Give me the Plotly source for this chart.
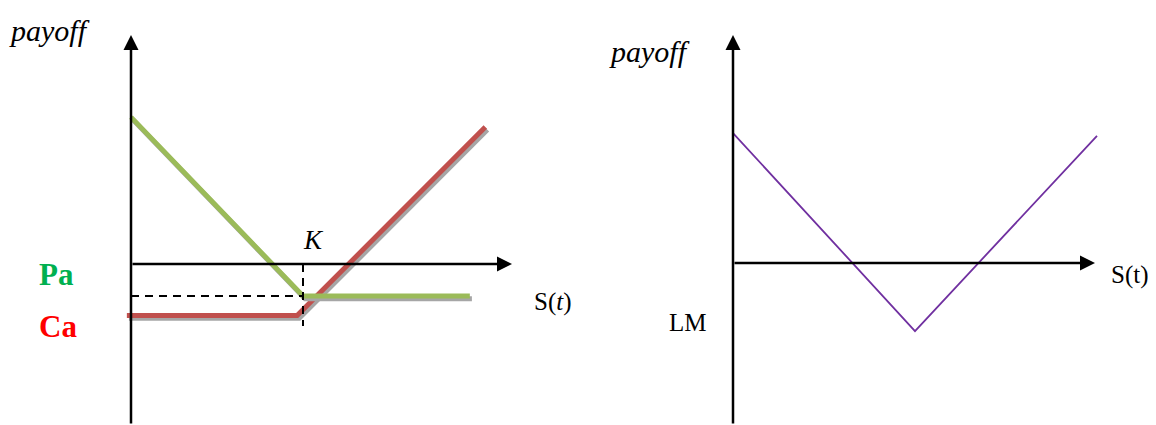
import plotly.graph_objects as go

# ---- data (payoff diagrams) ----
# Left panel: long put (green) and long call (red), strike K
K = 5.0
put_S = [0.0, 5.0, 9.85]
put_payoff = [4.27, -0.93, -0.93]
call_S = [-0.12, 4.83, 10.3]
call_payoff = [-1.5, -1.5, 3.98]
premium_level = -0.93
k_guide_bottom = -1.8

# Right panel: long straddle (purple)
straddle_S = [0.0, 5.0, 10.0]
straddle_payoff = [3.57, -1.87, 3.49]

PAGE_W, PAGE_H = 1156, 425
OFF = 8  # page body margin
W, H = PAGE_W - OFF, PAGE_H - OFF
fig = go.Figure()

# shadow offsets (style only)
dx, dy = 0.06, -0.08

# Left panel traces
fig.add_trace(go.Scatter(x=[s + dx for s in call_S], y=[p + dy for p in call_payoff],
                         mode="lines", line=dict(color="#a6a6a6", width=5), xaxis="x", yaxis="y",
                         hoverinfo="skip"))
fig.add_trace(go.Scatter(x=call_S, y=call_payoff, mode="lines",
                         line=dict(color="#c0504d", width=5), xaxis="x", yaxis="y"))
fig.add_trace(go.Scatter(x=[s + dx for s in put_S], y=[p + dy for p in put_payoff],
                         mode="lines", line=dict(color="#a6a6a6", width=5), xaxis="x", yaxis="y",
                         hoverinfo="skip"))
fig.add_trace(go.Scatter(x=put_S, y=put_payoff, mode="lines",
                         line=dict(color="#9bbb59", width=5), xaxis="x", yaxis="y"))
# dashed guides
fig.add_trace(go.Scatter(x=[0, K], y=[premium_level, premium_level], mode="lines",
                         line=dict(color="black", width=2, dash="8px,6px"), xaxis="x", yaxis="y"))
fig.add_trace(go.Scatter(x=[K, K], y=[0, k_guide_bottom], mode="lines",
                         line=dict(color="black", width=2, dash="8px,6px"), xaxis="x", yaxis="y"))

# Right panel trace
fig.add_trace(go.Scatter(x=straddle_S, y=straddle_payoff, mode="lines",
                         line=dict(color="#7030a0", width=1.8), xaxis="x2", yaxis="y2"))

# axes (hidden) mapped so origins sit where drawn (page pixels)
k1 = 34.4
k2 = 36.4
ox1, oy1 = 131, 264
ox2, oy2 = 733, 263
split = 578
hid = dict(visible=False, showgrid=False, zeroline=False, fixedrange=True)
fig.update_layout(
    width=W, height=H, autosize=False,
    margin=dict(l=0, r=0, t=0, b=0),
    paper_bgcolor="white", plot_bgcolor="white",
    showlegend=False,
    xaxis=dict(domain=[0, (split - OFF) / W], range=[(OFF - ox1) / k1, (split - ox1) / k1], **hid),
    yaxis=dict(domain=[0, 1], range=[-(PAGE_H - oy1) / k1, (oy1 - OFF) / k1], **hid),
    xaxis2=dict(domain=[(split - OFF) / W, 1], range=[(split - ox2) / k2, (PAGE_W - ox2) / k2], **hid),
    yaxis2=dict(domain=[0, 1], range=[-(PAGE_H - oy2) / k2, (oy2 - OFF) / k2], anchor="x2", **hid),
)

arrow = dict(showarrow=True, arrowhead=2, arrowwidth=2.5, arrowsize=1.2,
             arrowcolor="black", text="")
# left axes
fig.add_annotation(x=0, y=(oy1 - 35) / k1, ax=0, ay=-(PAGE_H - oy1) / k1, xref="x", yref="y",
                   axref="x", ayref="y", **arrow)
fig.add_annotation(x=(512 - ox1) / k1, y=0, ax=0, ay=0, xref="x", yref="y",
                   axref="x", ayref="y", **arrow)
# right axes
fig.add_annotation(x=0, y=(oy2 - 35) / k2, ax=0, ay=-(PAGE_H - oy2) / k2, xref="x2", yref="y2",
                   axref="x2", ayref="y2", **arrow)
fig.add_annotation(x=(1095 - ox2) / k2, y=0, ax=0, ay=0, xref="x2", yref="y2",
                   axref="x2", ayref="y2", **arrow)

serif = "Liberation Serif, Times New Roman, serif"


def px_text(text, xp, yp, size, color="black", anchor="left"):
    fig.add_annotation(x=(xp - OFF) / W, y=1 - (yp - OFF) / H, xref="paper", yref="paper",
                       text=text, showarrow=False, xanchor=anchor, yanchor="middle",
                       font=dict(family=serif, size=size, color=color))


px_text("<i>payoff</i>", 7, 30, 30)
px_text("<i>payoff</i>", 607, 51, 30)
px_text("<b>Pa</b>", 37, 274, 31, "#00b050")
px_text("<b>Ca</b>", 37, 326, 31, "#ff0000")
px_text("<i>K</i>", 301, 240, 27)
px_text("S(<i>t</i>)", 532, 302, 25)
px_text("S(t)", 1109, 275, 25)
px_text("LM", 667, 322, 25)

fig.write_html("out.html")
